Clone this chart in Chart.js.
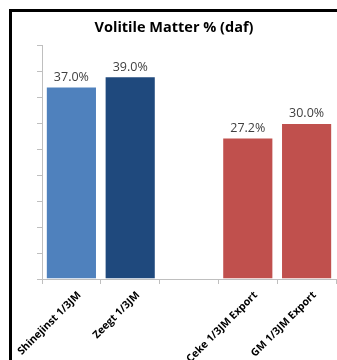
<!DOCTYPE html>
<html>
<head>
<meta charset="utf-8">
<script src="https://cdn.jsdelivr.net/npm/chart.js@4/dist/chart.umd.min.js"></script>
<style>
  html, body { margin: 0; padding: 0; background: #fff; }
  #frame {
    position: absolute; left: 9px; top: 9px;
    width: 325px; height: 348px;
    border-left: 3px solid #000; border-top: 3px solid #000;
  }
  #frame canvas { display: block; }
</style>
</head>
<body>
<div id="frame"><canvas id="c" width="325" height="348"></canvas></div>
<script>
// Volatile matter content (dry ash-free basis), per coal sample
const categories = ['Shinejinst 1/3JM', 'Zeegt 1/3JM', '', 'Ceke 1/3JM Export', 'GM 1/3JM Export'];
const volatileMatter = [37.0, 39.0, null, 27.2, 30.0];
const barColors = ['#4F81BD', '#1F497D', '#C0504D', '#C0504D', '#C0504D'];
const yTicks = [0, 5, 10, 15, 20, 25, 30, 35, 40, 45];

// Writes each bar's value above it
const valueLabels = {
  id: 'valueLabels',
  afterDatasetsDraw(chart) {
    const ctx = chart.ctx;
    const meta = chart.getDatasetMeta(0);
    ctx.save();
    ctx.font = '12.5px "Open Sans", "Noto Sans", sans-serif';
    ctx.fillStyle = '#404040';
    ctx.textAlign = 'center';
    ctx.textBaseline = 'bottom';
    meta.data.forEach((bar, i) => {
      const v = volatileMatter[i];
      if (v === null) return;
      ctx.fillText(v.toFixed(1) + '%', bar.x, bar.y - 3);
    });
    ctx.restore();
  }
};

new Chart(document.getElementById('c'), {
  type: 'bar',
  data: {
    labels: categories,
    datasets: [{
      data: volatileMatter,
      backgroundColor: barColors,
      borderColor: 'rgba(255,255,255,0.6)',
      borderWidth: 1,
      categoryPercentage: 0.87,
      barPercentage: 1.0
    }]
  },
  options: {
    responsive: false,
    animation: false,
    layout: { padding: { left: 0, right: 1, top: 0, bottom: 0 } },
    plugins: {
      legend: { display: false },
      tooltip: { enabled: false },
      title: {
        display: true,
        text: 'Volitile Matter % (daf)',
        color: '#000',
        font: { family: '"Open Sans", "Noto Sans", sans-serif', size: 14.5, weight: 'bold', lineHeight: 1.2 },
        padding: { top: 7.3, bottom: 8.3 }
      }
    },
    scales: {
      x: {
        grid: { drawOnChartArea: false, drawTicks: true, tickLength: 5, color: '#bfbfbf', offset: true },
        border: { color: '#bfbfbf' },
        ticks: {
          minRotation: 45, maxRotation: 45, autoSkip: false,
          color: '#000',
          padding: 5,
          labelOffset: 8,
          font: { family: '"Open Sans", "Noto Sans", sans-serif', size: 10.5, weight: 'bold' }
        },
        afterFit(scale) {
          scale.height = 81;
          // long rotated labels may spill left; keep the plot edge fixed
          scale.paddingLeft = 0;
          scale.paddingRight = 0;
        }
      },
      y: {
        min: 0, max: 45,
        afterBuildTicks(scale) { scale.ticks = yTicks.map(v => ({ value: v })); },
        grid: { drawOnChartArea: false, drawTicks: true, tickLength: 5, color: '#bfbfbf' },
        border: { color: '#bfbfbf' },
        ticks: { display: false },
        afterFit(scale) { scale.width = 30; }
      }
    }
  },
  plugins: [valueLabels]
});
</script>
</body>
</html>
